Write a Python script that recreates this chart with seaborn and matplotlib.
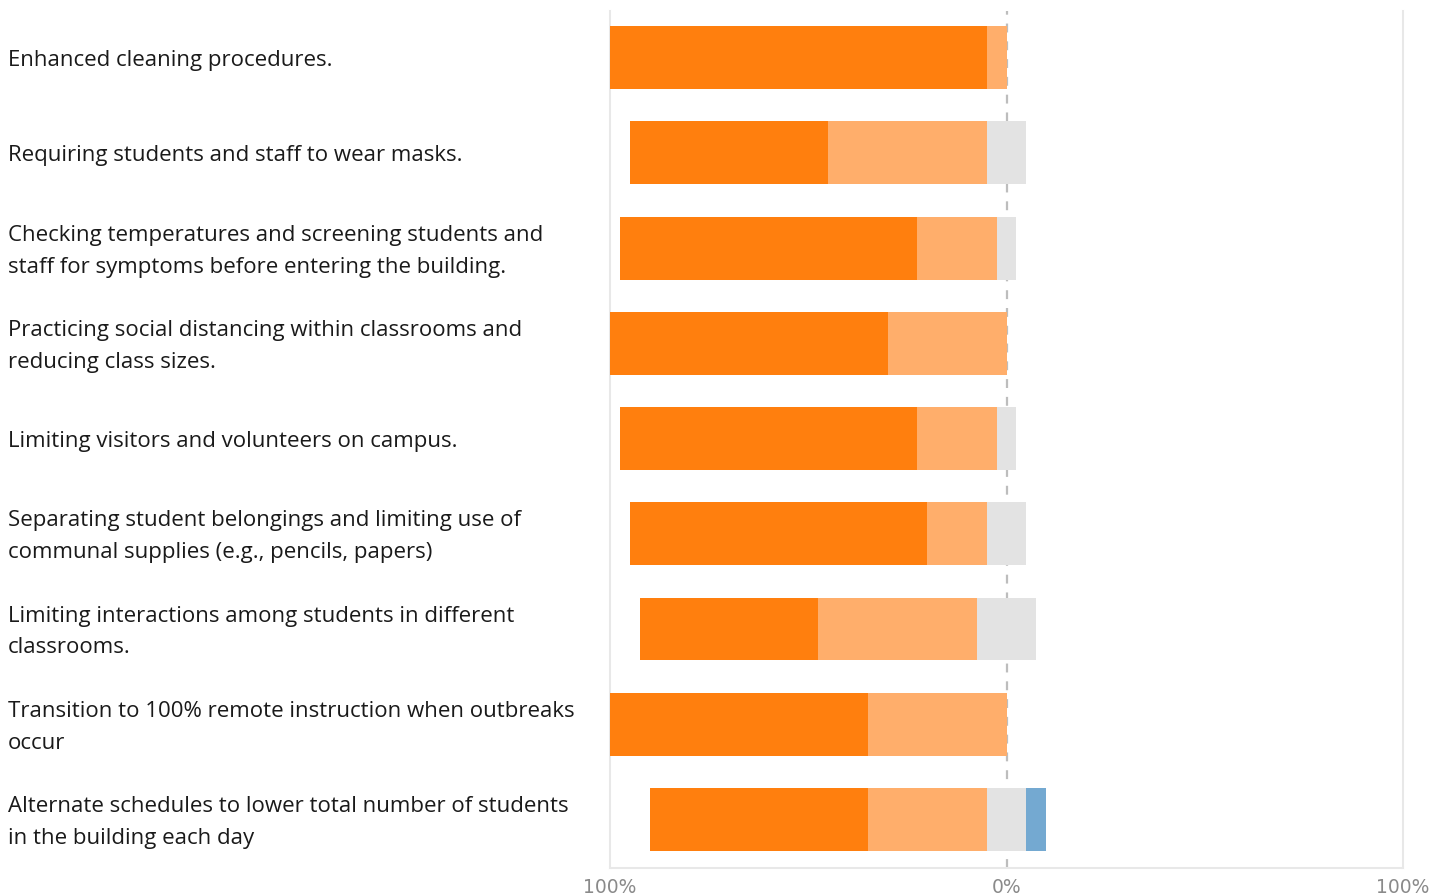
import numpy as np
import pandas as pd
import matplotlib
matplotlib.use("Agg")
import matplotlib.pyplot as plt
import matplotlib.transforms as mtransforms
import seaborn as sns

# Survey items and response shares (percent of respondents)
measures = [
    "Enhanced cleaning procedures.",
    "Requiring students and staff to wear masks.",
    "Checking temperatures and screening students and\nstaff for symptoms before entering the building.",
    "Practicing social distancing within classrooms and\nreducing class sizes.",
    "Limiting visitors and volunteers on campus.",
    "Separating student belongings and limiting use of\ncommunal supplies (e.g., pencils, papers)",
    "Limiting interactions among students in different\nclassrooms.",
    "Transition to 100% remote instruction when outbreaks\noccur",
    "Alternate schedules to lower total number of students\nin the building each day",
]
strongly_agree = [95, 50, 75, 70, 75, 75, 45, 65, 55]
agree = [5, 40, 20, 30, 20, 15, 40, 35, 30]
neutral = [0, 10, 5, 0, 5, 10, 15, 0, 10]
disagree = [0, 0, 0, 0, 0, 0, 0, 0, 5]

tick_values = [-100, 0, 100]
tick_labels = ["100%", "0%", "100%"]

c_strong = "#FF7F0E"
c_agree = "#FFAE6B"
c_neutral = "#E3E3E3"
c_disagree = "#74A9D1"

sns.set_theme(style="white")
plt.rcParams["font.family"] = ["Open Sans", "DejaVu Sans"]

fig = plt.figure(figsize=(14.45, 8.96), dpi=100)
ax = fig.add_axes([610 / 1445, 1 - 868 / 896, (1403 - 610) / 1445, (868 - 11) / 896])

sa = np.array(strongly_agree, float)
ag = np.array(agree, float)
ne = np.array(neutral, float)
di = np.array(disagree, float)

ypos = list(range(len(measures)))
df = pd.DataFrame({
    "item": ypos,
    "neg_strong": -(ne / 2 + ag + sa),
    "neg_agree": -(ne / 2 + ag),
    "neg_neutral": -(ne / 2),
    "pos_disagree": ne / 2 + di,
    "pos_neutral": ne / 2,
})

# Diverging stack: each layer drawn from zero outward, inner layers on top
layers = [
    ("neg_strong", c_strong),
    ("neg_agree", c_agree),
    ("neg_neutral", c_neutral),
    ("pos_disagree", c_disagree),
    ("pos_neutral", c_neutral),
]
for col, color in layers:
    sns.barplot(data=df, x=col, y="item", orient="h", color=color,
                width=0.66, linewidth=0, saturation=1, ax=ax, zorder=3,
                native_scale=True)

ax.axvline(0, color="#BDBDBD", lw=1.6, ls=(0, (4, 4)), zorder=1)

ax.set_xlim(-100, 100)
ax.set_ylim(8.51, -0.49)
ax.set_xticks(tick_values)
ax.set_xticklabels(tick_labels, color="#8A8A8A", fontsize=13.5,
                   family="DejaVu Sans")
ax.tick_params(axis="x", length=0, pad=7)
ax.set_yticks([])
ax.set_xlabel("")
ax.set_ylabel("")

for side in ["left", "right", "bottom"]:
    ax.spines[side].set_visible(True)
    ax.spines[side].set_color("#E8E8E8")
    ax.spines[side].set_linewidth(1.5)
ax.spines["top"].set_visible(False)

trans = mtransforms.blended_transform_factory(fig.transFigure, ax.transData)
trans = trans + mtransforms.ScaledTranslation(0, -3 / 100, fig.dpi_scale_trans)
for y, label in zip(ypos, measures):
    ax.text(8 / 1445, y, label, transform=trans, ha="left", va="center",
            fontsize=16, color="#1A1A1A", linespacing=1.68)

fig.savefig("out.png", dpi=100)
